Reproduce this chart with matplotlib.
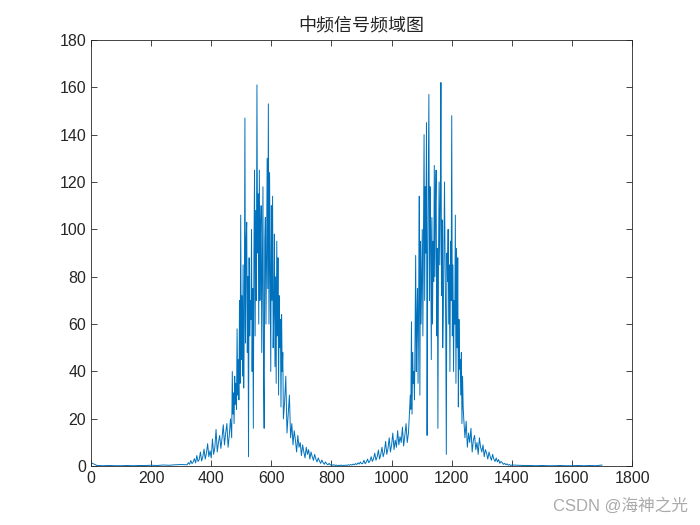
import numpy as np
import matplotlib
matplotlib.use('Agg')
import matplotlib.pyplot as plt

plt.rcParams['font.family'] = ['Liberation Sans', 'Noto Sans CJK SC', 'DejaVu Sans']

# spectrum magnitude
# each segment: (first bin, bin step, values)
low_mag = [1.5, 0.3, 0.2, 0.3, 0.2, 0.2, 0.3, 0.2, 0.3, 0.3, 0.4, 0.3, 0.5, 0.4, 0.6, 0.7]  # 0.. step 20

left_tail = [0.6, 1.5, 0.8, 2.4, 1.1, 1.8, 3.2, 1.4, 4.5, 2.0, 2.8, 6.0, 2.2, 4.0, 7.2, 3.0, 5.5, 9.5, 4.0,
             6.5, 3.5, 11.5, 5.0, 8.0, 15.5, 6.0, 10.0, 13.0, 7.5, 12.0, 17.5, 9.0, 14.0, 18.0, 8.0, 13.0,
             20.0, 12.0]  # 320.. step 4
left_peak = [40, 22, 31, 18, 38, 26, 35, 24, 58, 30, 45, 28, 70, 35, 106, 45,
             72, 38, 85, 33, 60, 147, 52, 95, 103, 48, 80, 4, 88, 55, 70,
             62, 100, 40, 75, 16, 90, 125, 55, 108, 70, 161, 90, 115, 60, 125,
             70, 98, 110, 48, 85, 118, 38, 16, 95, 105, 60, 88, 130, 75, 153,
             60, 124, 85, 40, 110, 70, 114, 50, 65, 98, 42, 80, 35, 95, 55,
             88, 30, 72, 50, 62, 25, 64, 40, 48, 20]  # 470.. step 2
left_decay = [27, 38, 14, 22, 30, 12, 18, 9, 15, 11, 6, 13, 8, 10, 4.5, 9, 6, 3.5, 8, 5, 7, 3, 6, 4, 2.5,
              5, 3, 1.8, 3.5, 2.2, 1.2, 2.6, 1.5, 0.8, 1.8, 1.0, 0.6, 1.2, 0.5, 0.7]  # 644.. step 4
middle = [0.4, 0.6, 0.3, 0.5, 0.2, 0.4, 0.3, 0.5, 0.2, 0.4, 0.3, 0.5, 0.3, 0.6, 0.4, 0.7, 0.5, 0.9, 0.6, 1.1,
          0.7, 1.4, 0.9, 1.8, 1.0]  # 804.. step 4
right_rise = [1.2, 2.5, 1.0, 1.8, 3.0, 1.5, 2.2, 4.0, 2.0, 3.2, 5.5, 2.5, 4.0, 6.8, 3.0, 5.0, 8.0, 4.0, 6.0,
              10.5, 5.0, 7.5, 12.0, 6.0, 9.0, 14.0, 7.0, 11.0, 8.0, 15.0, 9.0, 12.5, 10.0, 16.5, 8.5, 13.0,
              18.0, 10.0, 14.0, 24.0]  # 904.. step 4
right_peak = [30, 24, 61, 22, 48, 35, 40, 28, 55, 89, 40, 62, 75, 35, 70,
              114, 30, 95, 60, 80, 100, 55, 100, 140, 70, 118, 90, 145, 13, 85,
              120, 157, 70, 118, 100, 45, 105, 60, 95, 78, 127, 80, 110, 125, 55,
              92, 16, 88, 120, 85, 110, 162, 72, 104, 50, 65, 95, 120, 85, 60,
              5, 90, 78, 100, 60, 85, 40, 95, 70, 148, 55, 85, 40, 70, 60,
              106, 35, 92, 50, 88, 25, 62, 41, 45, 30, 48, 18, 38, 25, 20]  # 1062.. step 2
right_decay = [12, 19, 8, 14, 10, 16, 6, 11, 13, 7, 10, 5, 12, 8, 6, 9, 4, 7, 5.5, 3, 6, 4, 2.5, 5, 3, 2,
               3.5, 1.8, 2.8, 1.2, 2.0, 1.5, 0.8, 1.2, 0.6, 1.0, 0.4, 0.7, 0.3, 0.5]  # 1244.. step 4
high_mag = [0.4, 0.3, 0.3, 0.2, 0.3, 0.2, 0.2, 0.3, 0.2, 0.2, 0.3, 0.2, 0.3, 0.2, 0.5]  # 1420.. step 20

segments = [(0, 20, low_mag), (320, 4, left_tail), (470, 2, left_peak), (644, 4, left_decay),
            (804, 4, middle), (904, 4, right_rise), (1062, 2, right_peak), (1244, 4, right_decay),
            (1420, 20, high_mag)]

f = np.concatenate([start + step * np.arange(len(v)) for start, step, v in segments])
mag = np.concatenate([v for _, _, v in segments])

fig = plt.figure(figsize=(7, 5.25), dpi=100)
ax = fig.add_axes([0.13, 0.112, 0.773, 0.812])
ax.plot(f, mag, color='#0072BD', linewidth=0.7)

ax.set_xlim(0, 1800)
ax.set_ylim(0, 180)
ax.set_xticks(np.arange(0, 1801, 200))
ax.set_yticks(np.arange(0, 181, 20))
ax.tick_params(direction='in', top=True, right=True, labelsize=11.5, colors='#262626', length=4, width=0.6)
for s in ax.spines.values():
    s.set_linewidth(0.6)
    s.set_color('#262626')

ax.set_title('中频信号频域图', fontsize=13, family=['Noto Sans CJK SC', 'DejaVu Sans'], color='#222222')

fig.text(0.983, 0.022, 'CSDN @海神之光', ha='right', va='bottom', fontsize=12, color='#aaaaaa',
         family=['Liberation Sans', 'Noto Sans CJK SC'])

fig.savefig('out.png', dpi=100)
